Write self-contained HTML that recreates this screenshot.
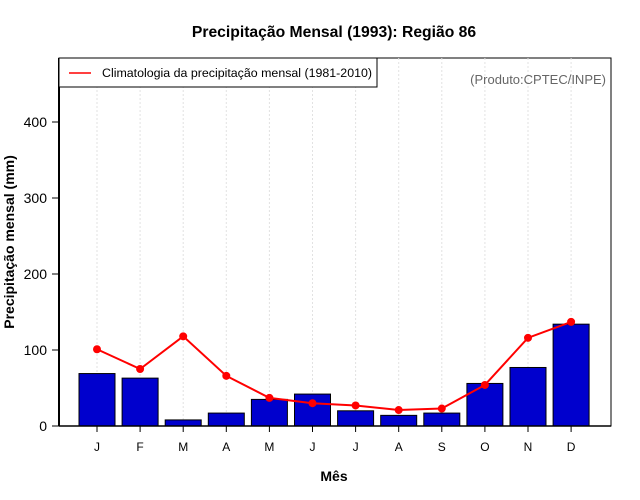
<!DOCTYPE html>
<html><head><meta charset="utf-8"><style>body{margin:0;background:#fff}svg{display:block;font-family:"Liberation Sans",sans-serif}</style></head>
<body>
<svg id="c" width="640" height="500">
<text x="334" y="37" text-anchor="middle" font-size="15.7" font-weight="bold">Precipitação Mensal (1993): Região 86</text>
<rect x="59" y="58" width="552" height="368" fill="none" stroke="#000" stroke-width="1"/>
<g id="grid"></g><g id="bars"></g><g id="line"></g><g id="axes"></g>
<line x1="59" y1="58" x2="59" y2="426" stroke="#000" stroke-width="2"/>
<line x1="59" y1="426" x2="611" y2="426" stroke="#000" stroke-width="1.5"/>
<g>
<rect x="59" y="58" width="318" height="29" fill="#fff" stroke="#000" stroke-width="1"/>
<line x1="69" y1="73" x2="91" y2="73" stroke="red" stroke-width="1.5"/>
<text x="102" y="77" font-size="12.4">Climatologia da precipitação mensal (1981-2010)</text>
</g>
<text x="606" y="84" text-anchor="end" font-size="13" fill="#666">(Produto:CPTEC/INPE)</text>
<text x="334" y="481" text-anchor="middle" font-size="14" font-weight="bold">Mês</text>
<text transform="translate(14,242) rotate(-90)" text-anchor="middle" font-size="14" font-weight="bold">Precipitação mensal (mm)</text>
</svg>
<script>
const months=["J","F","M","A","M","J","J","A","S","O","N","D"];
const observed=[69,63,8,17,35,42,20,14,17,56,77,134];
const climatology=[101,75,118,66,37,30,27,21,23,54,116,137];
const yTicks=[0,100,200,300,400];
const NS="http://www.w3.org/2000/svg";
const x=i=>97+i*43.1;
const y=v=>426-v*0.76;
function mk(t,a,p){const e=document.createElementNS(NS,t);for(const k in a)e.setAttribute(k,a[k]);p.appendChild(e);return e;}
const grid=document.getElementById('grid'),bars=document.getElementById('bars'),line=document.getElementById('line'),axes=document.getElementById('axes');
months.forEach((m,i)=>{
 const g=mk('line',{x1:x(i),x2:x(i),y1:58,y2:426,stroke:'#e2e2e2','stroke-dasharray':'2,2'},grid);
 
 
 const b=mk('rect',{x:x(i)-18,y:y(observed[i]),width:36,height:observed[i]*0.76,fill:'#0000cd',stroke:'#000','stroke-width':1},bars);
 
 
 const tk=mk('line',{x1:x(i),x2:x(i),y1:426,y2:432,stroke:'#000'},axes);
 
 
 const t=mk('text',{x:x(i),y:451,'text-anchor':'middle','font-size':12},axes);
 t.textContent=m;
 
 
});
const pl=mk('polyline',{points:climatology.map((v,i)=>x(i)+','+y(v)).join(' '),fill:'none',stroke:'red','stroke-width':2},line);


climatology.forEach((v,i)=>{
 const c=mk('circle',{cx:x(i),cy:y(v),r:4,fill:'red'},line);
 
 
});
yTicks.forEach(v=>{
 const tk=mk('line',{x1:52,x2:59,y1:y(v),y2:y(v),stroke:'#000'},axes);
 
 
 const t=mk('text',{x:47,y:y(v)+5,'text-anchor':'end','font-size':14},axes);
 t.textContent=v;
 
 
});
</script>
</body></html>
